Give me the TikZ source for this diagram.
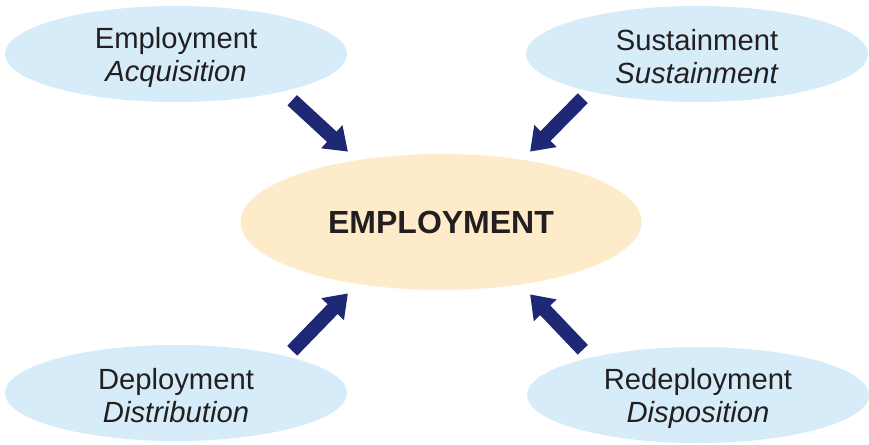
\documentclass[tikz,border=0pt]{standalone}
\usepackage{fontspec}
\setmainfont{Liberation Sans}
\usepackage{tikz}
\usetikzlibrary{shapes, arrows.meta, positioning}

\definecolor{phaseblue}{RGB}{214,236,249}
\definecolor{corepeach}{RGB}{253,235,201}
\definecolor{arrownavy}{RGB}{31,40,117}
\definecolor{textgray}{RGB}{35,31,32}

\newcommand{\phaselift}{\rule{0pt}{13.6pt}}

\begin{document}
\begin{tikzpicture}[x=0.5pt, y=-0.5pt,
    phase/.style={ellipse, fill=phaseblue, inner sep=0pt, minimum width=171pt, minimum height=48pt,
        align=center, text=textgray, font=\fontsize{14.6}{16.5}\selectfont},
    core/.style={ellipse, fill=corepeach, inner sep=0pt, minimum width=200.5pt, minimum height=68pt,
        text=textgray, font=\fontsize{16}{19}\selectfont\bfseries},
    push/.style={-{Triangle[length=11pt, width=15pt]}, line width=7pt, arrownavy}]
    \useasboundingbox (0,0) rectangle (869,445);

    % Central phase
    \node[core] (ctr) at (441,222) {EMPLOYMENT};

    % Surrounding phases
    \node[phase] (acq) at (176,54) {\phaselift Employment\\\textit{Acquisition}};
    \node[phase] (sus) at (697,54) {\phaselift Sustainment\\\textit{Sustainment}};
    \node[phase] (dep) at (176,393) {\phaselift Deployment\\\textit{Distribution}};
    \node[phase] (red) at (698,395) {\phaselift Redeployment\\\textit{Disposition}};

    % Arrows into the centre
    \draw[push] ([shift={(-5,12)}]acq.south east) -- ([shift={(49,-22)}]ctr.north west);
    \draw[push] ([shift={(7,10)}]sus.south west) -- ([shift={(-53,-22)}]ctr.north east);
    \draw[push] ([shift={(-5,-8)}]dep.north east) -- ([shift={(49,23)}]ctr.south west);
    \draw[push] ([shift={(6,-11)}]red.north west) -- ([shift={(-53,24)}]ctr.south east);
\end{tikzpicture}
\end{document}
